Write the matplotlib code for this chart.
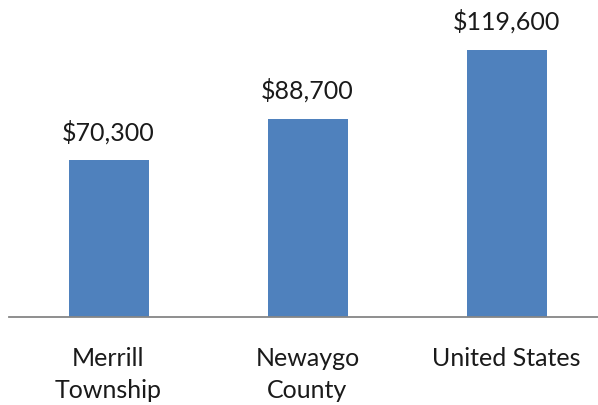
import matplotlib.pyplot as plt

# Median home value by area
areas = ['Merrill\nTownship', 'Newaygo\nCounty', 'United States']
values = [70300, 88700, 119600]
value_labels = ['$70,300', '$88,700', '$119,600']

plt.rcParams['font.family'] = ['Lato', 'DejaVu Sans']

fig = plt.figure(figsize=(5.98, 4.06), dpi=100)
ax = fig.add_axes([9 / 598, 88 / 406, 597 / 598, 318 / 406])

x = range(len(areas))
bars = ax.bar(x, values, width=80 / 199, color='#4F81BD')

# value labels above the bars
for rect, txt in zip(bars, value_labels):
    ax.annotate(txt, (rect.get_x() + rect.get_width() / 2, rect.get_height()),
                xytext=(0, 21), textcoords='offset points',
                ha='center', va='center', fontsize=18, color='#1a1a1a')

ax.set_xlim(-0.5, 2.5)
ax.set_ylim(0, 142450)
ax.set_xticks(list(x))
ax.set_xticklabels(areas, fontsize=18, color='#1a1a1a', linespacing=1.45, va='top')
ax.tick_params(axis='x', length=0, pad=21)
ax.set_yticks([])

for side in ['top', 'left', 'right']:
    ax.spines[side].set_visible(False)
ax.spines['bottom'].set_color('#868686')
ax.spines['bottom'].set_linewidth(1.3)

plt.savefig('out.png', dpi=100)
